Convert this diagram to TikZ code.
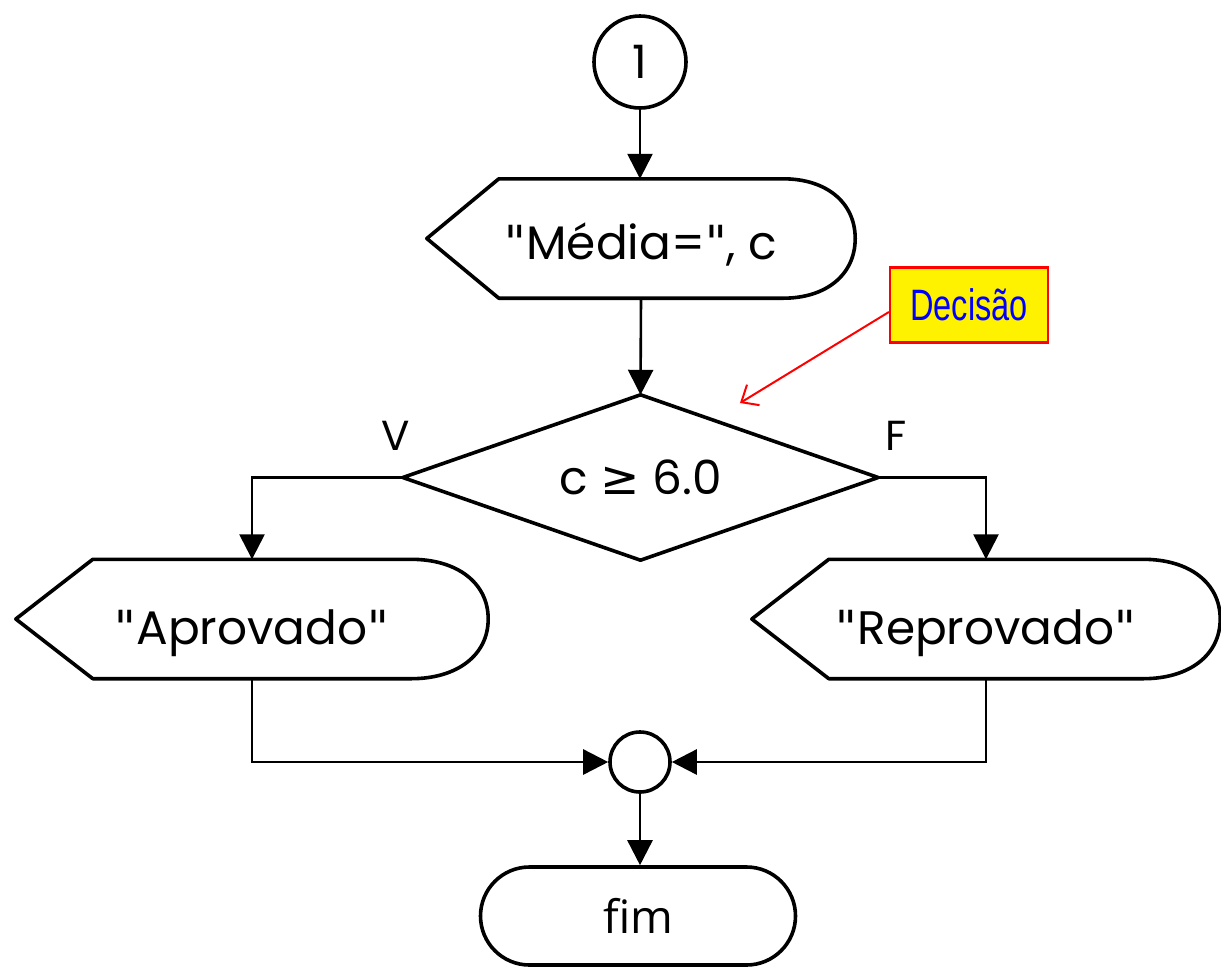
\documentclass[tikz,border=0pt]{standalone}
\usepackage{fontspec}
\setmainfont{Poppins}
\newfontfamily\termfont{Open Sans}
\newfontfamily\notefont[FakeStretch=0.74]{Liberation Sans}
\newfontfamily\symfont{DejaVu Sans}
\usetikzlibrary{arrows.meta,calc}

\newcommand\qt{{\symfont"}}
% set a line with its baseline a given distance below the node centre
\newcommand\onbase[2]{\raisebox{-#1}[0pt][0pt]{#2}}

\tikzset{
  outline/.style={line width=3.6pt, line join=round},
  flow/.style={line width=2.6pt, -{Triangle[length=25pt,width=25pt]}},
  boxtext/.style={font=\fontsize{47}{54}\selectfont, inner sep=0pt},
  dispbox/.style={boxtext, minimum height=119pt, minimum width=#1},
  connector/.style={circle, draw, line width=3.6pt, inner sep=0pt, minimum size=#1, font=\fontsize{46}{52}\selectfont},
  branchlabel/.style={font=\fontsize{42}{48}\selectfont, inner sep=0pt},
  note/.style={draw=red, line width=2.2pt, fill=yellow, text=blue, font=\notefont\fontsize{44}{50}\selectfont,
    minimum width=158pt, minimum height=75pt, inner sep=0pt},
}

% display symbol: pointed left end, rounded right end
\newcommand\displayoutline[2]{%
  \draw[outline] (#1.west) -- ([xshift=#2]#1.north west) -- ([xshift=-#2]#1.north east)
    .. controls ([xshift=-0.4*#2]#1.north east) and ([yshift=36pt]#1.east) .. (#1.east)
    .. controls ([yshift=-36pt]#1.east) and ([xshift=-0.4*#2]#1.south east) .. ([xshift=-#2]#1.south east)
    -- ([xshift=#2]#1.south west) -- cycle;}

\begin{document}
\begin{tikzpicture}[x=1pt, y=-1pt]
  \useasboundingbox (0,0) rectangle (1221,967);

  % connector at the top
  \node[connector=92pt] (start) at (640,62) {1};

  % output of the mean
  \node[dispbox=428pt] (media) at (641,238.5) {\onbase{21pt}{\qt Média=\qt, c}};
  \displayoutline{media}{72pt}

  % decision
  \node[boxtext, minimum width=475pt, minimum height=165pt] (cond) at (640.5,477.5) {c {\symfont ≥} 6.0};
  \draw[outline] (cond.north) -- (cond.east) -- (cond.south) -- (cond.west) -- cycle;
  \node[branchlabel] (vlab) at (396,436) {V};
  \node[branchlabel] (flab) at (896,436) {F};

  % the two outputs
  \node[dispbox=472pt] (aprov) at (252,619) {\onbase{25pt}{\qt Aprovado\qt}};
  \displayoutline{aprov}{77pt}
  \node[dispbox=468pt] (reprov) at (986,619) {\onbase{25pt}{\qt Reprovado\qt}};
  \displayoutline{reprov}{77pt}

  % junction and end
  \node[connector=60pt] (merge) at (640,762) {};
  \node[draw, outline, rounded corners=49pt, minimum width=315pt, minimum height=98pt,
        inner sep=0pt, font=\termfont\fontsize{46}{52}\selectfont] (fim) at (638,916) {fim};

  % flow lines
  \draw[flow] (start) -- (start.south |- media.north);
  \draw[flow] (media.south) -- (cond.north);
  \draw[flow] (cond.west) -| (aprov.north);
  \draw[flow] (cond.east) -| (reprov.north);
  \draw[flow] (aprov.south) |- (merge.west);
  \draw[flow] (reprov.south) |- (merge.east);
  \draw[flow] (merge.south) -- (merge.south |- fim.north);

  % annotation
  \node[note] (dec) at (969,305) {Decisão};
  \coordinate (dectip) at (740,403);
  \draw[red, line width=2pt, -{Straight Barb[length=14pt,width=24pt]}] ([yshift=-7pt]dec.west) -- (dectip);
\end{tikzpicture}
\end{document}
